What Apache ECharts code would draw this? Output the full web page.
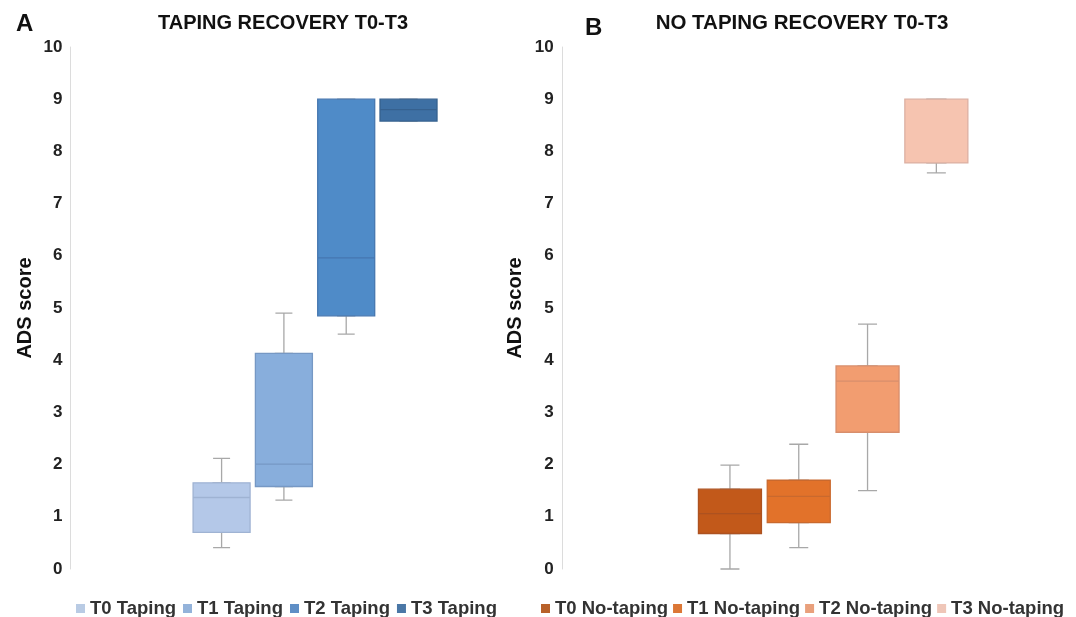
<!DOCTYPE html>
<html>
<head>
<meta charset="utf-8">
<script src="https://cdn.jsdelivr.net/npm/echarts@6/dist/echarts.min.js"></script>
<style>html,body{margin:0;padding:0;background:#fff}#c{width:1076px;height:617px}</style>
</head>
<body>
<div id="c"></div>
<script>
// ---- data (min, Q1, median, Q3, max) ----
const tapingNames = ['T0 Taping', 'T1 Taping', 'T2 Taping', 'T3 Taping'];
const noTapingNames = ['T0 No-taping', 'T1 No-taping', 'T2 No-taping', 'T3 No-taping'];
const tapingT0 = [0.41, 0.70, 1.37, 1.65, 2.12];
const tapingT1 = [1.32, 1.58, 2.01, 4.13, 4.90];
const tapingT2 = [4.50, 4.85, 5.96, 9.00, 9.00];
const tapingT3 = [8.58, 8.58, 8.80, 9.00, 9.00];
const noTapingT0 = [0.00, 0.68, 1.06, 1.53, 1.99];
const noTapingT1 = [0.41, 0.89, 1.39, 1.70, 2.39];
const noTapingT2 = [1.50, 2.62, 3.60, 3.89, 4.69];
const noTapingT3 = [7.59, 7.78, 9.00, 9.00, 9.00];
const yTicks = [0, 1, 2, 3, 4, 5, 6, 7, 8, 9, 10];
const panelTitles = ['TAPING RECOVERY T0-T3', 'NO TAPING RECOVERY T0-T3'];
const panelLetters = ['A', 'B'];
const yAxisName = 'ADS score';

// ---- styles ----
const tapingFill = ['#b4c8e8', '#88aedc', '#4f8bc8', '#3e70a4'];
const tapingBorder = ['#9fb3d3', '#7698c4', '#4677b0', '#36618f'];
const tapingLegend = ['#b9cbe4', '#94b3da', '#5f8fc6', '#4a77a6'];
const noTapingFill = ['#c2591a', '#e2722a', '#f29d70', '#f6c4b0'];
const noTapingBorder = ['#ad5220', '#c9692e', '#d88e6c', '#dcb0a2'];
const noTapingLegend = ['#b8612a', '#dc7736', '#e9a07c', '#efc6b8'];
const whiskerColor = '#a8a8a8';
const FONT = 'Liberation Sans, Arial, sans-serif';

const tapingData = [tapingT0, tapingT1, tapingT2, tapingT3];
const noTapingData = [noTapingT0, noTapingT1, noTapingT2, noTapingT3];

function boxOnly(d) { return [d[1], d[1], d[2], d[3], d[3]]; }

const grids = [
  { left: 168.9, width: 292.3, top: 47, bottom: 48 },
  { left: 671.9, width: 322.5, top: 47, bottom: 48 }
];
const boxW = [57, 63];
const capW = [17, 19];

const xAxis = [];
for (let g = 0; g < 2; g++) {
  for (let k = 0; k < 2; k++) {
    xAxis.push({ type: 'category', gridIndex: g, data: [''], show: false, boundaryGap: true });
  }
}
const yAxis = [0, 1].map(g => ({
  type: 'value', gridIndex: g, min: 0, max: 10, interval: 1,
  offset: g === 0 ? 98.4 : 109.2,
  name: yAxisName, nameLocation: 'middle', nameGap: g === 0 ? 35 : 37,
  nameTextStyle: { fontFamily: FONT, fontWeight: 'bold', fontSize: 20, color: '#111' },
  axisLine: { show: true, lineStyle: { color: '#dcdcdc', width: 1 } },
  axisTick: { show: false },
  splitLine: { show: false },
  axisLabel: {
    fontFamily: FONT, fontWeight: 'bold', fontSize: 17, color: '#222', margin: g === 0 ? 8 : 9,
    formatter: v => (yTicks.indexOf(v) >= 0 ? String(v) : '')
  }
}));

const series = [];
[[tapingNames, tapingData, tapingFill, tapingBorder], [noTapingNames, noTapingData, noTapingFill, noTapingBorder]]
  .forEach(([names, data, fill, border], g) => {
    // whiskers (grey), on their own hidden axis so layout matches
    names.forEach((n, i) => {
      series.push({
        type: 'boxplot', name: 'w_' + n, xAxisIndex: g * 2 + 1, yAxisIndex: g,
        boxWidth: [capW[g], capW[g]], z: 1,
        itemStyle: { color: 'rgba(0,0,0,0)', borderColor: whiskerColor, borderWidth: 1.3 },
        emphasis: { disabled: true }, silent: true,
        data: [data[i]]
      });
    });
    // coloured boxes
    names.forEach((n, i) => {
      series.push({
        type: 'boxplot', name: n, xAxisIndex: g * 2, yAxisIndex: g,
        boxWidth: [boxW[g], boxW[g]], z: 3,
        itemStyle: { color: fill[i], borderColor: border[i], borderWidth: 1.3 },
        emphasis: { disabled: true }, silent: true,
        data: [boxOnly(data[i])]
      });
    });
  });

const legendText = { fontFamily: FONT, fontWeight: 'bold', fontSize: 18.5, color: '#333' };
const option = {
  animation: false,
  backgroundColor: '#fff',
  title: [
    { text: panelLetters[0], left: 11, top: 7, textStyle: { fontFamily: FONT, fontWeight: 'bold', fontSize: 24, color: '#111' } },
    { text: panelTitles[0], left: 278, top: 8, textAlign: 'center', textStyle: { fontFamily: FONT, fontWeight: 'bold', fontSize: 20, color: '#111' } },
    { text: panelLetters[1], left: 580, top: 11, textStyle: { fontFamily: FONT, fontWeight: 'bold', fontSize: 24, color: '#111' } },
    { text: panelTitles[1], left: 797, top: 8, textAlign: 'center', textStyle: { fontFamily: FONT, fontWeight: 'bold', fontSize: 20.5, color: '#111' } }
  ],
  legend: [
    { data: tapingNames.map((n, i) => ({ name: n, itemStyle: { color: tapingLegend[i], borderWidth: 0 } })),
      left: 71, top: 594, width: 460, icon: 'rect', itemWidth: 9, itemHeight: 9, itemGap: 7, textStyle: legendText, selectedMode: false },
    { data: noTapingNames.map((n, i) => ({ name: n, itemStyle: { color: noTapingLegend[i], borderWidth: 0 } })),
      left: 536, top: 594, width: 540, icon: 'rect', itemWidth: 9, itemHeight: 9, itemGap: 5, textStyle: legendText, selectedMode: false }
  ],
  grid: grids,
  xAxis: xAxis,
  yAxis: yAxis,
  series: series
};
const chart = echarts.init(document.getElementById('c'), null, { renderer: 'canvas' });
chart.setOption(option);
</script>
</body>
</html>
